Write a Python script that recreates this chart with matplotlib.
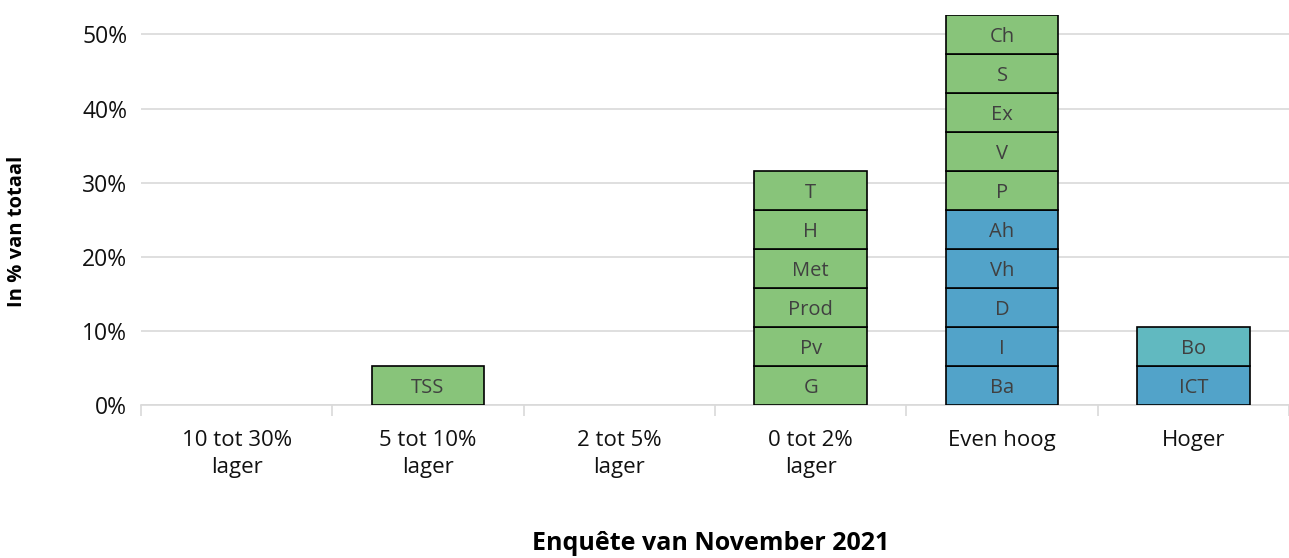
import matplotlib
matplotlib.use("Agg")
import matplotlib.pyplot as plt
from matplotlib.ticker import FixedLocator, PercentFormatter

# categories on the x axis
categories = ["10 tot 30%\nlager", "5 tot 10%\nlager", "2 tot 5%\nlager",
              "0 tot 2%\nlager", "Even hoog", "Hoger"]

# stacked segments per category, bottom to top
segment_labels = [
    [],
    ["TSS"],
    [],
    ["G", "Pv", "Prod", "Met", "H", "T"],
    ["Ba", "I", "D", "Vh", "Ah", "P", "V", "Ex", "S", "Ch"],
    ["ICT", "Bo"],
]
segment_values = [
    [],
    [5.26],
    [],
    [5.26, 5.26, 5.26, 5.26, 5.26, 5.26],
    [5.26, 5.26, 5.26, 5.26, 5.26, 5.26, 5.26, 5.26, 5.26, 5.26],
    [5.26, 5.26],
]
segment_groups = [
    [],
    ["g"],
    [],
    ["g", "g", "g", "g", "g", "g"],
    ["b", "b", "b", "b", "b", "g", "g", "g", "g", "g"],
    ["b", "t"],
]

colors = {"g": "#88c47a", "b": "#52a3c9", "t": "#61b9c0"}
grid_c = "#d9d9d9"
text_c = "#404040"

plt.rcParams["font.family"] = ["Open Sans", "DejaVu Sans"]

fig = plt.figure(figsize=(12.89, 5.58), dpi=100)
ax = fig.add_axes([0.1094, 0.2742, 0.8906, 0.6989])

for i, (labels, vals, groups) in enumerate(zip(segment_labels, segment_values, segment_groups)):
    bottom = 0.0
    for lab, v, g in zip(labels, vals, groups):
        ax.bar(i, v, bottom=bottom, width=0.59, color=colors[g],
               edgecolor="black", linewidth=1.2, zorder=3)
        ax.text(i, bottom + v / 2, lab, ha="center", va="center_baseline",
                fontsize=14.5, color=text_c, zorder=4)
        bottom += v

ax.set_xlim(-0.5, len(categories) - 0.5)
ax.set_ylim(0, 52.63)
ax.set_yticks([0, 10, 20, 30, 40, 50])
ax.yaxis.set_major_formatter(PercentFormatter(decimals=0))
ax.grid(axis="y", color=grid_c, linewidth=1.2, zorder=0)
ax.set_axisbelow(True)

ax.set_xticks(range(len(categories)))
ax.set_xticklabels(categories, fontsize=16, color="#111111", linespacing=1.35)
ax.xaxis.set_minor_locator(FixedLocator([x - 0.5 for x in range(len(categories) + 1)]))
ax.tick_params(axis="x", which="major", length=0, pad=18)
ax.tick_params(axis="x", which="minor", length=8, color=grid_c, width=1.2)
ax.tick_params(axis="y", length=0, labelsize=16.5, labelcolor="#111111", pad=10)

for side in ["top", "right", "left"]:
    ax.spines[side].set_visible(False)
ax.spines["bottom"].set_color(grid_c)
ax.spines["bottom"].set_linewidth(1.2)

fig.text(0.551, 0.003, "Enquête van November 2021", ha="center", va="bottom",
         fontsize=18, fontweight="bold", color="black")
fig.text(0.013, 0.586, "In % van totaal", ha="center", va="center",
         rotation=90, fontsize=14.5, fontweight="bold", color="black")

fig.savefig("out.png", dpi=100)
plt.close(fig)
